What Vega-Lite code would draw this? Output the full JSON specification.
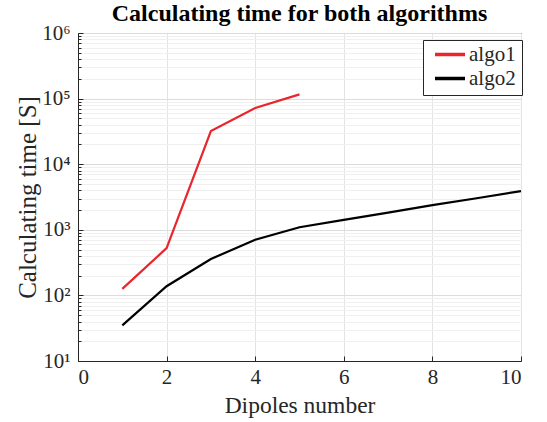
{
  "$schema": "https://vega.github.io/schema/vega-lite/v6.json",
  "autosize": "none",
  "padding": {"left": 78, "top": 33, "right": 26, "bottom": 61},
  "width": 443,
  "height": 328,
  "background": "white",
  "title": {
    "text": "Calculating time for both algorithms",
    "font": "Liberation Serif",
    "fontSize": 24,
    "fontWeight": "bold",
    "color": "black",
    "offset": -4
  },
  "config": {
    "view": {"stroke": "#262626", "strokeWidth": 1},
    "axis": {
      "labelFont": "Liberation Serif",
      "titleFont": "Liberation Serif",
      "labelFontSize": 21,
      "labelColor": "#262626",
      "titleColor": "#262626",
      "titleFontWeight": "normal",
      "domainColor": "#262626",
      "tickColor": "#262626",
      "tickSize": -5,
      "labelPadding": 10
    }
  },
  "data": {
    "values": [
      {"n": 1, "t": 126, "algo": "algo1"},
      {"n": 2, "t": 525, "algo": "algo1"},
      {"n": 3, "t": 32000, "algo": "algo1"},
      {"n": 4, "t": 72000, "algo": "algo1"},
      {"n": 5, "t": 116000, "algo": "algo1"},
      {"n": 1, "t": 35, "algo": "algo2"},
      {"n": 2, "t": 138, "algo": "algo2"},
      {"n": 3, "t": 359, "algo": "algo2"},
      {"n": 4, "t": 705, "algo": "algo2"},
      {"n": 5, "t": 1095, "algo": "algo2"},
      {"n": 6, "t": 1420, "algo": "algo2"},
      {"n": 7, "t": 1830, "algo": "algo2"},
      {"n": 8, "t": 2380, "algo": "algo2"},
      {"n": 9, "t": 3030, "algo": "algo2"},
      {"n": 10, "t": 3900, "algo": "algo2"}
    ]
  },
  "mark": {"type": "line", "strokeWidth": 2.2, "clip": true},
  "encoding": {
    "x": {
      "field": "n",
      "type": "quantitative",
      "scale": {"domain": [0, 10], "nice": false},
      "axis": {
        "title": "Dipoles number",
        "titleFontSize": 23.5,
        "values": [0, 2, 4, 6, 8, 10],
        "gridColor": "#e3e3e3",
        "titleY": 32
      }
    },
    "y": {
      "field": "t",
      "type": "quantitative",
      "scale": {"type": "log", "domain": [10, 1000000], "nice": false},
      "axis": {
        "title": "Calculating time [S]",
        "titleFontSize": 25,
        "titleX": -38,
        "labelPadding": 13,
        "values": [10, 20, 30, 40, 50, 60, 70, 80, 90, 100, 200, 300, 400, 500, 600, 700, 800, 900, 1000, 2000, 3000, 4000, 5000, 6000, 7000, 8000, 9000, 10000, 20000, 30000, 40000, 50000, 60000, 70000, 80000, 90000, 100000, 200000, 300000, 400000, 500000, 600000, 700000, 800000, 900000, 1000000],
        "labelExpr": "datum.value == 10 ? '10¹' : datum.value == 100 ? '10²' : datum.value == 1000 ? '10³' : datum.value == 10000 ? '10⁴' : datum.value == 100000 ? '10⁵' : datum.value == 1000000 ? '10⁶' : ''",
        "gridColor": {"condition": {"test": "indexof([10,100,1000,10000,100000,1000000], datum.value) >= 0", "value": "#dcdcdc"}, "value": "#f0f0f0"},
        "tickSize": {"condition": {"test": "indexof([10,100,1000,10000,100000,1000000], datum.value) >= 0", "value": -5}, "value": -3}
      }
    },
    "color": {
      "field": "algo",
      "type": "nominal",
      "scale": {"domain": ["algo1", "algo2"], "range": ["#e8262c", "#000000"]},
      "legend": {
        "title": null,
        "orient": "none",
        "legendX": 345,
        "legendY": 7,
        "symbolType": "stroke",
        "symbolSize": 900,
        "symbolStrokeWidth": 3.5,
        "symbolOffset": 4,
        "clipHeight": 17,
        "labelFont": "Liberation Serif",
        "labelFontSize": 21,
        "labelColor": "#262626",
        "strokeColor": "#262626",
        "fillColor": "white",
        "padding": 6,
        "rowPadding": 2,
        "labelOffset": 2
      }
    }
  }
}
